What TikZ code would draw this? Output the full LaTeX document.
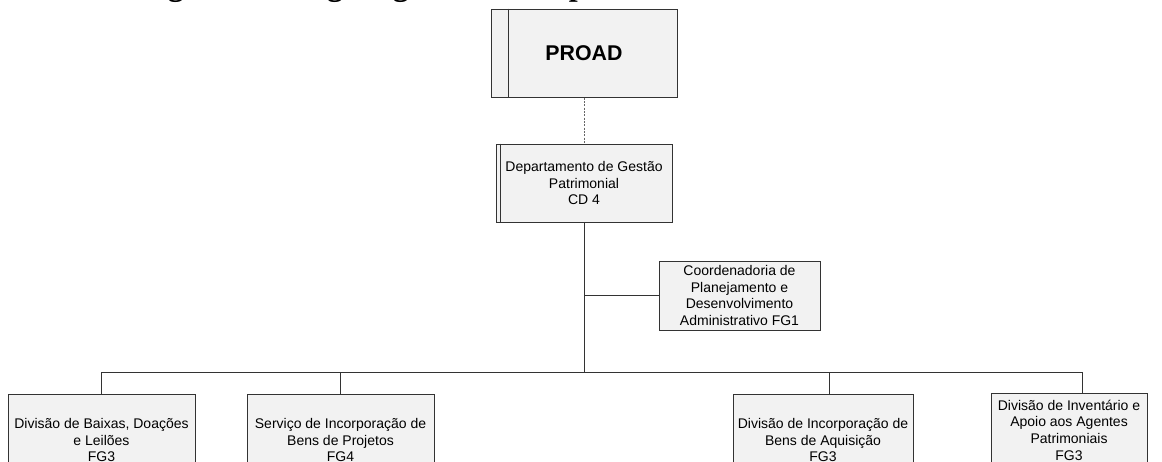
\documentclass[tikz,border=0pt]{standalone}
\usepackage{fontspec}
\setmainfont{Liberation Sans}
\newfontfamily\titlefont{Liberation Serif}
\usepackage{tikz}
\usetikzlibrary{positioning}

\begin{document}
\begin{tikzpicture}[
	x=0.75pt, y=-0.75pt,
	caixa/.style={
		draw=black!80,
		fill=black!5,
		line width=0.75pt,
		align=center,
		inner sep=2pt,
		font=\fontsize{10.5}{12.5}\selectfont
	},
	liga/.style={
		draw=black!80,
		line width=0.75pt
	},
	titulo/.style={
		anchor=base,
		font=\titlefont\bfseries\fontsize{24}{28}\selectfont
	}
	]
	\useasboundingbox (0,0) rectangle (1162,461);
	\clip (0,0) rectangle (1162,461);
	
	\node[titulo] (tit) at (591,-5)
	{Figura 1 – Organograma do Departamento de Gestão Patrimonial};
	
	\node[caixa, minimum width=139.5pt, minimum height=66pt,
		font=\bfseries\fontsize{16}{19}\selectfont] at (584,53)
	(proad) {PROAD};
	
	\node[caixa, minimum width=132pt, minimum height=58.5pt] at (584,183)
	(dept) {Departamento de Gestão\\Patrimonial\\CD 4};
	
	\node[caixa, minimum width=120.75pt, minimum height=51.75pt] at (739.5,295.5)
	(coord) {Coordenadoria de\\Planejamento e\\Desenvolvimento\\Administrativo FG1};
	
	% divisoes
	\node[caixa, minimum width=140.25pt, minimum height=69pt] at (101.5,440)
	(baixas) {Divisão de Baixas, Doações\\e Leilões\\FG3};
	
	\node[caixa, minimum width=140.25pt, minimum height=69pt] at (340.5,440)
	(projetos) {Serviço de Incorporação de\\Bens de Projetos\\FG4};
	
	\node[caixa, minimum width=135pt, minimum height=69pt] at (823,440)
	(aquisicao) {Divisão de Incorporação de\\Bens de Aquisição\\FG3};
	
	\node[caixa, minimum width=117pt, minimum height=55.5pt] at (1069,430)
	(inventario) {Divisão de Inventário e\\Apoio aos Agentes\\Patrimoniais\\FG3};
	
	\draw[liga] ([xshift=13.3pt]proad.north west) -- ([xshift=13.3pt]proad.south west);
	\draw[liga] ([xshift=3.75pt]dept.north west) -- ([xshift=3.75pt]dept.south west);
	
	\draw[liga, draw=black!60, line width=0.5pt, dash pattern=on 1.5pt off 1pt]
	(proad.south) -- (dept.north);
	
	\coordinate (barra) at (584,372);
	
	\draw[liga] (dept.south) -- (barra);
	\draw[liga] (coord.west) -- (coord.west -| barra);
	\draw[liga] (baixas.north) -- (baixas.north |- barra)
	-- ([xshift=9.75pt]inventario.north |- barra) -- ([xshift=9.75pt]inventario.north);
	\draw[liga] (projetos.north) -- (projetos.north |- barra);
	\draw[liga] ([xshift=4.5pt]aquisicao.north) -- ([xshift=4.5pt]aquisicao.north |- barra);
	
\end{tikzpicture}
\end{document}
